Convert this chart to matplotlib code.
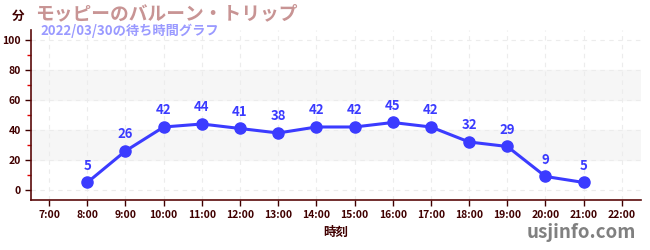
import matplotlib
matplotlib.use('Agg')
import matplotlib.pyplot as plt

plt.rcParams['font.family'] = ['Noto Sans CJK JP', 'DejaVu Sans']

# wait times (minutes) by hour
hours = [8, 9, 10, 11, 12, 13, 14, 15, 16, 17, 18, 19, 20, 21]
waits = [5, 26, 42, 44, 41, 38, 42, 42, 45, 42, 32, 29, 9, 5]
tick_hours = list(range(7, 23))
tick_labels = [f'{h}:00' for h in tick_hours]
y_ticks = [0, 20, 40, 60, 80, 100]

axis_col = '#5a0a0a'
line_col = '#3b3bff'

fig = plt.figure(figsize=(6.5, 2.5), dpi=100)
ax = fig.add_axes([0.048, 0.2, 0.938, 0.68])

ax.set_xlim(6.53, 22.5)
ax.set_ylim(-6.7, 106.7)

# grey bands
ax.axhspan(20, 40, color='#f6f6f6', zorder=0)
ax.axhspan(60, 80, color='#f6f6f6', zorder=0)
ax.grid(True, color='#ececec', linestyle=(0, (4, 4)), linewidth=0.8, zorder=0)

ax.plot(hours, waits, color=line_col, linewidth=2.2, marker='o', markersize=8, zorder=3)
for h, w in zip(hours, waits):
    ax.annotate(str(w), (h, w), xytext=(0, 7), textcoords='offset points',
                ha='center', va='bottom', color=line_col, fontsize=9.5, fontweight='bold')

ax.set_xticks(tick_hours)
ax.set_xticklabels(tick_labels)
ax.set_yticks(y_ticks)
ax.set_yticks([10, 30, 50, 70, 90], minor=True)
ax.tick_params(axis='both', colors='#400000', labelsize=7.5, length=4, width=1)
ax.tick_params(axis='y', which='minor', color='#e00000', length=3, width=1)
for lab in ax.get_xticklabels() + ax.get_yticklabels():
    lab.set_fontweight('bold')

for s in ['top', 'right']:
    ax.spines[s].set_visible(False)
for s in ['left', 'bottom']:
    ax.spines[s].set_color(axis_col)
    ax.spines[s].set_linewidth(1.2)

ax.set_xlabel('時刻', color='#400000', fontsize=9, fontweight='bold', labelpad=4)

fig.text(0.018, 0.935, '分', color='#400000', fontsize=9, fontweight='bold', va='center')
fig.text(0.054, 0.945, 'モッピーのバルーン・トリップ', color='#c89494', fontsize=13.5,
         fontweight='bold', va='center')
fig.text(0.062, 0.875, '2022/03/30の待ち時間グラフ', color='#9a9aff', fontsize=9.5,
         fontweight='bold', va='center')
fig.text(0.978, 0.068, 'usjinfo.com', color='#808080', fontsize=13.5, fontweight='bold',
         ha='right', va='center')

fig.savefig('out.png', dpi=100)
